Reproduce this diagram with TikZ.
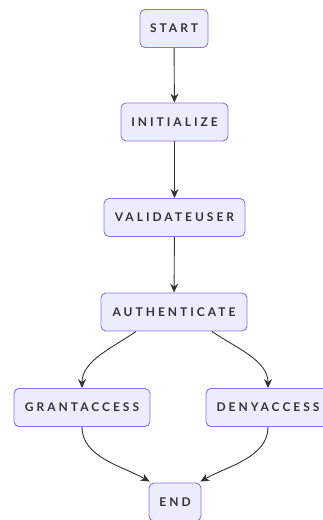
\documentclass[tikz,border=0pt]{standalone}
\usepackage{fontspec}
\setmainfont{Lato}[LetterSpace=25]
\usetikzlibrary{arrows.meta}
\definecolor{boxfill}{HTML}{ECECFF}
\definecolor{boxline}{HTML}{9370DB}
\definecolor{ink}{HTML}{333333}
\tikzset{
  stepbox/.style={draw=boxline, fill=boxfill, line width=0.9pt, rounded corners=5pt,
    minimum height=38pt, inner xsep=0pt, text=ink,
    font=\fontsize{12pt}{14pt}\selectfont\bfseries},
  edge/.style={draw=ink, line width=0.9pt, -{Stealth[length=9pt,width=8pt,inset=3pt]}}
}
\begin{document}
\begin{tikzpicture}[x=1pt,y=1pt]
  \useasboundingbox (0,0) rectangle (322,-520);
  \node[stepbox, minimum width=68pt]  (start) at (174,-28.5) {START};
  \node[stepbox, minimum width=107pt] (init)  at (174.5,-122) {INITIALIZE};
  \node[stepbox, minimum width=141pt] (valid) at (174.5,-217.5) {VALIDATEUSER};
  \node[stepbox, minimum width=146pt] (auth)  at (174,-312) {AUTHENTICATE};
  \node[stepbox, minimum width=136pt] (grant) at (82,-407.5) {GRANTACCESS};
  \node[stepbox, minimum width=124pt] (deny)  at (268,-407.5) {DENYACCESS};
  \node[stepbox, minimum width=52pt]  (end)   at (175,-502) {END};

  \draw[edge] (start) -- (init);
  \draw[edge] (init) -- (valid);
  \draw[edge] (valid) -- (auth);
  \draw[edge] ([xshift=-38pt]auth.south) to[out=-145,in=90,looseness=0.9] (grant.north);
  \draw[edge] ([xshift=38pt]auth.south) to[out=-35,in=90,looseness=0.9] (deny.north);
  \draw[edge] (grant.south) to[out=-90,in=150,looseness=0.9] ([xshift=1pt,yshift=1pt]end.north west);
  \draw[edge] (deny.south) to[out=-90,in=30,looseness=0.9] ([xshift=-1pt,yshift=1pt]end.north east);
\end{tikzpicture}
\end{document}
